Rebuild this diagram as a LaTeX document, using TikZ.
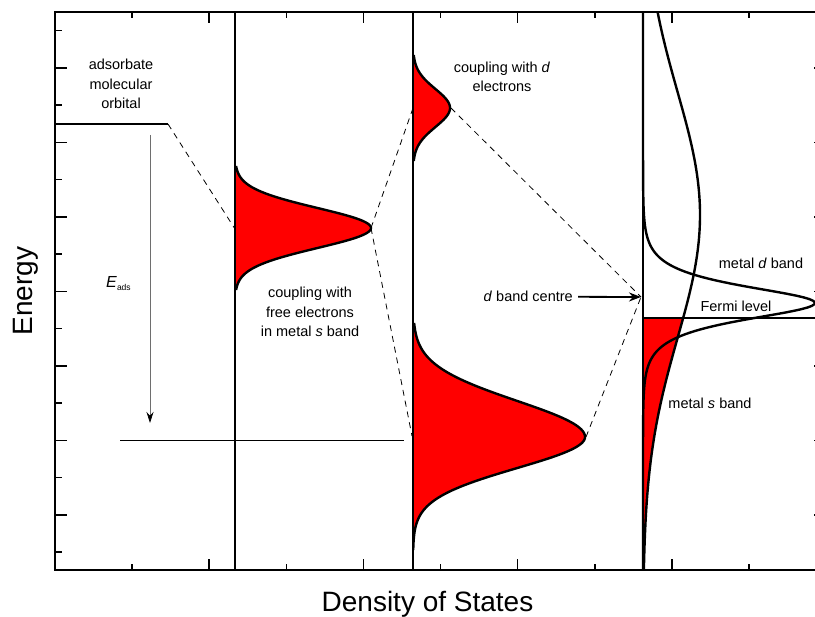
\documentclass[tikz,border=0pt]{standalone}
\usepackage{fontspec}
\setmainfont{Liberation Sans}
\usetikzlibrary{arrows.meta}
\definecolor{BandRed}{HTML}{FF0000}
\definecolor{LevelGrey}{HTML}{6E6E6E}

\begin{document}
\begin{tikzpicture}[x=1pt,y=-1pt,>=Stealth,
 declare function={gs(\t,\c,\s)=exp(-0.5*((\t-\c)/\s)^2);},
 curve/.style={line width=2.4pt,line join=round},
 axis/.style={line width=2pt},
 tick/.style={line width=1.6pt},
 link/.style={dash pattern=on 6pt off 5pt,line width=0.8pt},
 lbl/.style={inner sep=0pt,font=\fontsize{14.5}{19.5}\selectfont,align=center},
 big/.style={inner sep=0pt,font=\fontsize{28}{30}\selectfont}]
\useasboundingbox (0,0) rectangle (815,617);
\clip (0,0) rectangle (815,617);

% points the dashed links join
\coordinate (adsStart) at (55,124);
\coordinate (adsEnd) at (168,124);
\coordinate (sBase) at (235,229);
\coordinate (sPeak) at (371,228);
\coordinate (dBase) at (413,108);
\coordinate (dPeak) at (451,108);
\coordinate (bBase) at (412,436);
\coordinate (bPeak) at (586,437);
\coordinate (dCentre) at (641,297);
\coordinate (eTop) at (150,135);
\coordinate (eBot) at (150,423);
\coordinate (bondL) at (120,440);
\coordinate (bondR) at (404,440);
\coordinate (fermiL) at (643,318);
\coordinate (fermiR) at (826,318);

% red bands
\fill[BandRed] plot[domain=166:290,samples=110] ({235+136*gs(\x,228,20)},\x);
\draw[curve] plot[domain=166:290,samples=110] ({235+136*gs(\x,228,20)},\x);
\fill[BandRed] plot[domain=55:161,samples=90] ({413+37*gs(\x,108,19)},\x);
\draw[curve] plot[domain=55:161,samples=90] ({413+37*gs(\x,108,19)},\x);
\fill[BandRed] plot[domain=323:437,samples=90] ({413+172*gs(\x,437,36)},\x)
 -- plot[domain=437:550,samples=90] ({413+172*gs(\x,437,31)},\x);
\draw[curve] plot[domain=323:437,samples=90] ({413+172*gs(\x,437,36)},\x)
 -- plot[domain=437:550,samples=90] ({413+172*gs(\x,437,31)},\x);
\fill[BandRed] (fermiL) -- plot[domain=318:570,samples=80]
 ({643+57*gs(\x,215,123)},\x) -- (643,570) -- cycle;

% metal s and d bands
\draw[curve] plot[domain=12:570,samples=120] ({643+57*gs(\x,215,123)},\x);
\draw[curve] (643,12) -- plot[domain=170:440,samples=160]
 ({643+172/cosh((\x-303)/15)},\x) -- (643,570);

% frame, panels and ticks
\draw[axis] (55,12) rectangle (826,570);
\foreach \px in {235,413,643} \draw[axis] (\px,12) -- (\px,570);
\foreach \k in {0,...,14}{
 \pgfmathsetmacro\ty{30.7+37.25*\k}
 \pgfmathsetmacro\tl{mod(\k,2)==1 ? 12 : 7}
 \draw[tick] (55,\ty) -- ++(\tl,0);
 \draw[tick] (826,\ty) -- ++(-\tl,0);
}
\foreach \j in {1,...,9}{
 \pgfmathsetmacro\tx{55+77.1*\j}
 \pgfmathsetmacro\tl{mod(\j,2)==0 ? 11 : 6}
 \draw[tick] (\tx,570) -- ++(0,-\tl);
 \draw[tick] (\tx,12) -- ++(0,\tl);
}

% levels
\draw[line width=2.4pt] (adsStart) -- (adsEnd);
\draw[line width=2pt] (fermiL) -- (fermiR);
\draw[line width=0.9pt] (bondL) -- (bondR);
\draw[line width=0.8pt,LevelGrey,-{Stealth[length=11pt,width=7pt,black]}] (eTop) -- (eBot);

% labels
\node[big,rotate=90,anchor=base] (energy) at (32,291) {Energy};
\node[big,anchor=base] (dos) at (427.5,612) {Density of States};
\node[lbl] (adsLbl) at (121,84) {adsorbate\\molecular\\orbital};
\node[lbl,anchor=base west] (eLbl) at (106,288)
 {\fontsize{16}{18}\selectfont\textit{E}\raisebox{-2.5pt}{\fontsize{8.5}{9}\selectfont ads}};
\node[lbl] (sCoup) at (310,312) {coupling with\\free electrons\\in metal \textit{s} band};
\node[lbl] (dCoup) at (502,77) {coupling with \textit{d}\\electrons};
\node[lbl,anchor=base east] (dcLbl) at (573,302) {\textit{d} band centre};
\node[lbl,anchor=base] (dBandLbl) at (761,269) {metal \textit{d} band};
\node[lbl,anchor=base] (fermiLbl) at (736,312) {Fermi level};
\node[lbl,anchor=base] (sBandLbl) at (710,409) {metal \textit{s} band};
\draw[line width=1.8pt,-{Stealth[length=12pt,width=9pt]}] ([xshift=5pt]dcLbl.east) -- (dCentre);

% dashed links
\draw[link] (adsEnd) -- (sBase);
\draw[link] (sPeak) -- (dBase);
\draw[link] (sPeak) -- (bBase);
\draw[link] (dPeak) -- (dCentre);
\draw[link] (bPeak) -- (dCentre);
\end{tikzpicture}
\end{document}
